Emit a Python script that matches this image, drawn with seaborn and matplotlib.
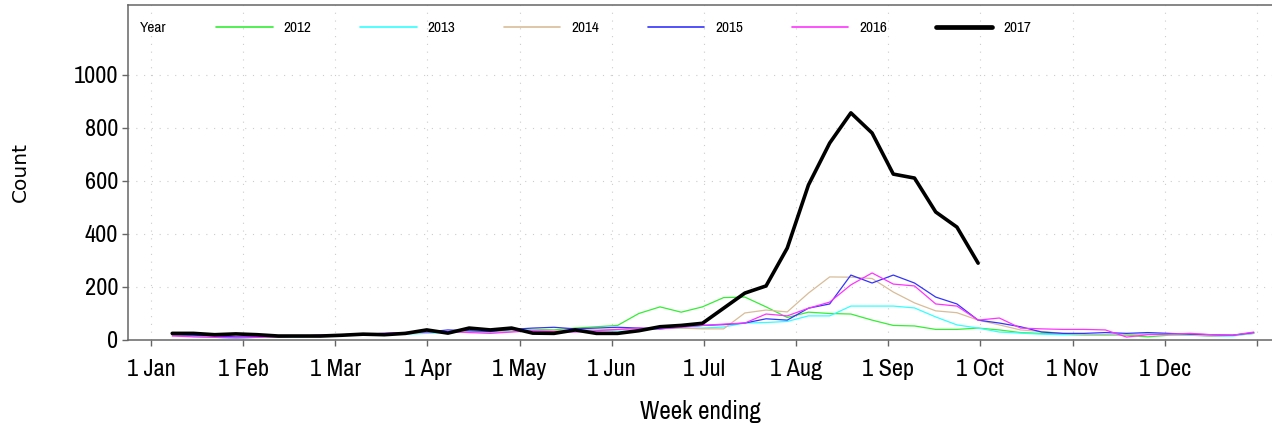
import pandas as pd
import seaborn as sns
import matplotlib.pyplot as plt
from matplotlib.lines import Line2D
from matplotlib import font_manager

# weekly counts, first value = week ending 7 Jan
years = ["2012", "2013", "2014", "2015", "2016", "2017"]
c2012 = [20, 15, 10, 8, 10, 12, 15, 18, 20, 22, 20, 25, 30, 28, 35, 30, 35, 40, 38, 45,
         50, 55, 100, 125, 105, 125, 160, 162, 125, 85, 105, 100, 98, 75, 55, 53, 40, 40, 45, 38,
         28, 25, 22, 20, 20, 18, 12, 18, 20, 15, 18, 25]
c2013 = [22, 12, 10, 8, 10, 12, 12, 15, 18, 20, 20, 22, 25, 28, 30, 28, 32, 38, 30, 32,
         35, 38, 40, 42, 45, 45, 49, 64, 66, 70, 91, 91, 128, 128, 128, 121, 87, 57, 45, 30,
         26, 22, 20, 18, 18, 20, 22, 20, 18, 15, 15, 25]
c2014 = [18, 15, 12, 10, 12, 12, 15, 18, 20, 22, 22, 25, 28, 30, 32, 30, 35, 38, 35, 40,
         38, 40, 42, 45, 45, 42, 42, 102, 113, 106, 177, 238, 237, 232, 181, 140, 110, 103, 75, 57,
         38, 32, 25, 20, 18, 20, 22, 20, 18, 15, 18, 25]
c2015 = [20, 18, 15, 12, 12, 15, 15, 18, 20, 22, 25, 28, 30, 38, 35, 32, 40, 45, 48, 42,
         45, 48, 45, 42, 50, 55, 58, 64, 80, 75, 120, 136, 245, 215, 245, 215, 162, 136, 75, 64,
         50, 30, 25, 25, 28, 25, 28, 25, 22, 20, 18, 28]
c2016 = [15, 12, 10, 8, 10, 12, 15, 18, 20, 22, 25, 28, 30, 32, 28, 25, 30, 35, 32, 30,
         35, 40, 45, 42, 48, 55, 60, 64, 98, 91, 120, 143, 208, 253, 211, 204, 136, 128, 75, 83,
         45, 42, 40, 40, 38, 11, 20, 22, 25, 20, 18, 30]
c2017 = [25, 25, 20, 23, 20, 15, 15, 15, 18, 22, 20, 25, 38, 26, 45, 38, 45, 26, 25, 38,
         25, 25, 35, 50, 55, 63, 120, 177, 204, 347, 585, 743, 857, 781, 626, 611, 483, 426, 290]

month_labels = ["1 Jan", "1 Feb", "1 Mar", "1 Apr", "1 May", "1 Jun", "1 Jul",
                "1 Aug", "1 Sep", "1 Oct", "1 Nov", "1 Dec", ""]
y_ticks = [0, 200, 400, 600, 800, 1000]

colors = {"2012": "#33ee33", "2013": "#33ffff", "2014": "#d9bc98",
          "2015": "#3333ff", "2016": "#ff33ff", "2017": "#000000"}
widths = {"2012": 0.9, "2013": 0.9, "2014": 0.9, "2015": 0.9, "2016": 0.9, "2017": 2.6}

# long form table, x = day of year of the week ending
rows = []
for yr, vals in zip(years, [c2012, c2013, c2014, c2015, c2016, c2017]):
    for i, v in enumerate(vals):
        rows.append({"Year": yr, "day": (i + 1) * 7, "Count": v})
df = pd.DataFrame(rows)

sns.set_theme(style="white")
names = {f.name for f in font_manager.fontManager.ttflist}
narrow = "Archivo Narrow" if "Archivo Narrow" in names else "DejaVu Sans"
plt.rcParams["font.family"] = [narrow, "DejaVu Sans"]
plt.rcParams["text.color"] = "black"
plt.rcParams["axes.labelcolor"] = "black"
plt.rcParams["xtick.color"] = "black"
plt.rcParams["ytick.color"] = "black"

fig = plt.figure(figsize=(12.72, 4.29), dpi=100)
ax = fig.add_axes([128 / 1272, 1 - 340 / 429, 1 - 128 / 1272, 335 / 429])

sns.lineplot(data=df, x="day", y="Count", hue="Year", hue_order=years, palette=colors,
             size="Year", size_order=years, sizes=widths, legend=False, ax=ax)

# month ticks are evenly spaced in the original
month_pos = [i * 365 / 12 for i in range(13)]
ax.set_xticks(month_pos)
ax.set_xticklabels(month_labels, fontsize=17.5)
ax.set_yticks(y_ticks)
ax.set_yticklabels([str(t) for t in y_ticks], fontsize=17.5)
ax.set_xlim(-7.6, 370)
ax.set_ylim(0, 1264)

ax.grid(True, color="#cccccc", linestyle=(0, (1, 6)), linewidth=0.8)
for side in ["left", "bottom", "top"]:
    ax.spines[side].set_color("#666666")
    ax.spines[side].set_linewidth(1.1)
ax.spines["right"].set_visible(False)
ax.tick_params(axis="both", direction="out", length=4, width=1, color="#666666",
               labelcolor="black", left=True, bottom=True)
ax.tick_params(axis="y", pad=3)
ax.tick_params(axis="x", pad=10)

ax.set_xlabel("Week ending", fontsize=18)
ax.xaxis.set_label_coords(0.5, -0.18)
ax.set_ylabel("Count", fontsize=14.5, family="DejaVu Sans")
ax.yaxis.set_label_coords(-0.086, 0.5)

# legend across the top
ax.text(0.0105, 0.931, "Year", transform=ax.transAxes, fontsize=11, va="center")
handles = [Line2D([], [], color=colors[y], linewidth=3.4 if y == "2017" else 1.2)
           for y in years]
ax.legend(handles, years, ncol=6, loc="center left", bbox_to_anchor=(0.077, 0.931),
          frameon=False, fontsize=11, handlelength=3.7, handletextpad=0.7,
          columnspacing=3.2, borderpad=0, borderaxespad=0)

fig.savefig("out.png", dpi=100)
